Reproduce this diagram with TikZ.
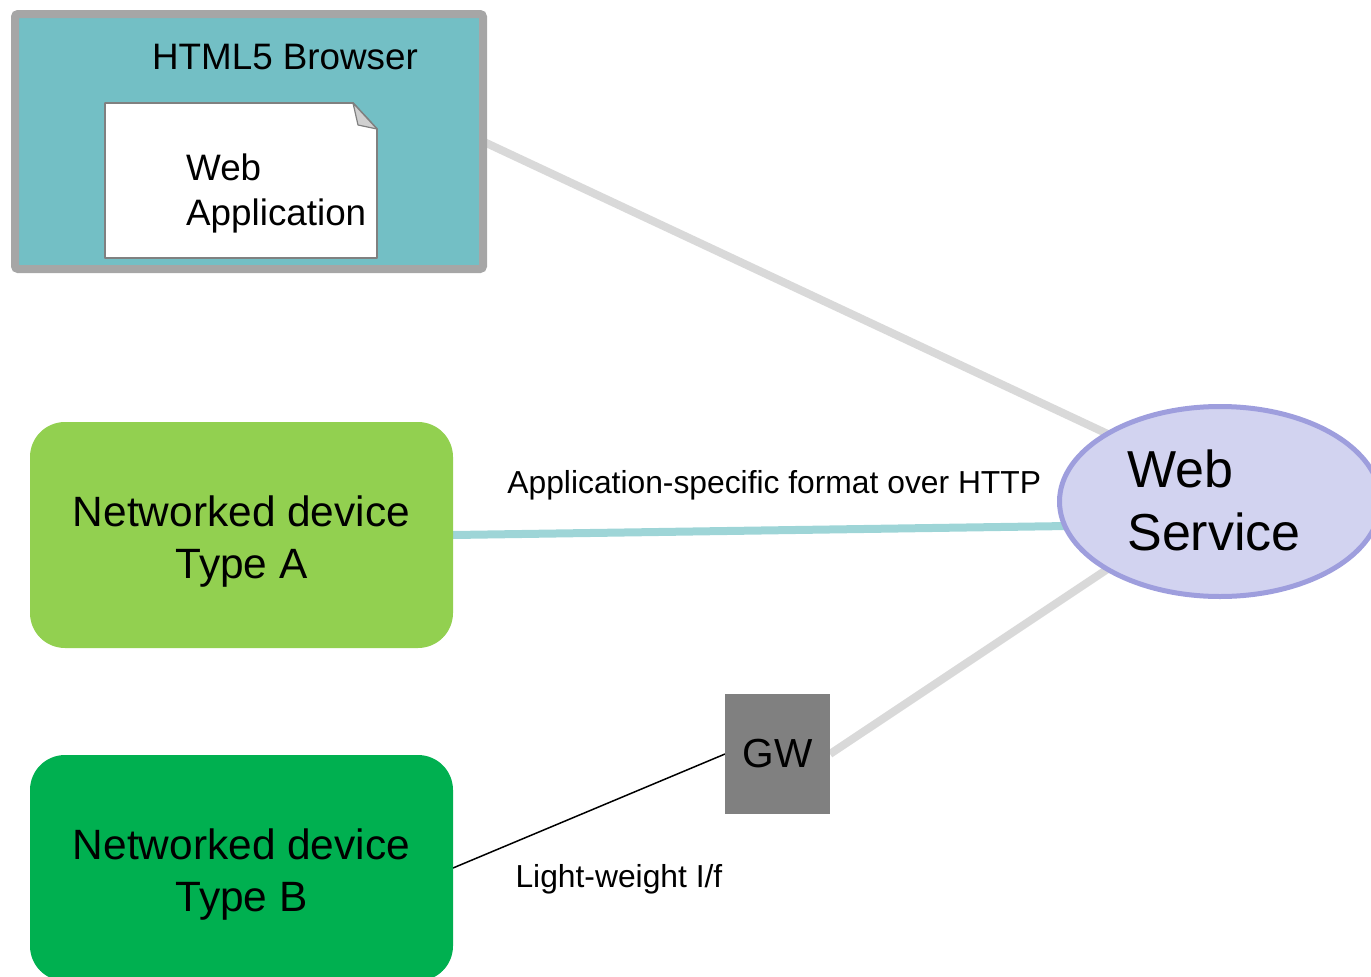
\documentclass[tikz,border=0pt]{standalone}
\usepackage{fontspec}
\setmainfont{Liberation Sans}
\usetikzlibrary{shapes.geometric,backgrounds}
\definecolor{browserfill}{HTML}{73BFC5}
\definecolor{browserline}{HTML}{A6A6A6}
\definecolor{docline}{HTML}{808080}
\definecolor{docfold}{HTML}{D0D0D0}
\definecolor{linkgray}{HTML}{D9D9D9}
\definecolor{linkteal}{HTML}{9ED5D7}
\definecolor{wsfill}{HTML}{D2D3F0}
\definecolor{wsline}{HTML}{9E9EDD}
\definecolor{devA}{HTML}{92D050}
\definecolor{devB}{HTML}{00B050}
\definecolor{gwfill}{HTML}{808080}
\newcommand\setfs[2]{\fontsize{#1}{#2}\selectfont}
% two centred lines, lowered a little inside a device box (box size kept)
\newcommand\devtext[2]{\raisebox{-7pt}[\height][\depth]{\begin{tabular}{@{}c@{}}#1\\#2\end{tabular}}}
\tikzset{
  device/.style={rounded corners=35pt, minimum width=423, minimum height=226,
    inner sep=0pt, outer sep=0pt, font=\setfs{42.4}{52}},
  widelink/.style={line width=8pt},
  lbl/.style={inner sep=0pt, text=black, font=\setfs{31.8}{38}},
}
\begin{document}
\begin{tikzpicture}[x=1pt,y=-1pt]
\useasboundingbox (0,0) rectangle (1371,977);
\clip (0,0) rectangle (1371,977);

% browser frame and the web application sheet inside it
\node[draw=browserline, fill=browserfill, line width=8pt, rounded corners=3pt,
  minimum width=468, minimum height=255, inner sep=0pt, outer sep=0pt]
  (browser) at (249,141.5) {};
\node[anchor=base, inner sep=0pt, font=\setfs{36.8}{45}] (browsertitle) at (285,69) {HTML5 Browser};
\draw[docline, fill=white, line width=1.8pt, line join=round]
  (105,103) -- (353,103) -- (377,129) -- (377,258) -- (105,258) -- cycle;
\draw[docline, fill=docfold, line width=1.2pt, line join=round]
  (353,103) -- (358,125) -- (377,129) -- cycle;
\node[anchor=base west, inner sep=0pt, font=\setfs{36.8}{45}] (webapp1) at (186,180) {Web};
\node[anchor=base west, inner sep=0pt, font=\setfs{36.8}{45}] (webapp2) at (186,225) {Application};

% web service
\node[ellipse, draw=wsline, fill=wsfill, line width=5pt, minimum width=321,
  minimum height=190, inner sep=0pt, outer sep=0pt,
  font=\setfs{52}{63}] (ws) at (1220,501.5)
  {\raisebox{-5pt}[\height][\depth]{\begin{tabular}{@{}l@{\hspace{12pt}}}Web\\Service\end{tabular}}};

% devices and gateway
\node[device, fill=devA] (devicea) at (241.5,535) {\devtext{Networked device}{Type A}};
\node[device, fill=devB] (deviceb) at (241.5,868) {\devtext{Networked device}{Type B}};
\node[fill=gwfill, minimum width=105, minimum height=120, inner sep=0pt,
  outer sep=0pt, font=\setfs{40.6}{48}] (gw) at (777.5,754) {GW};

% connections
\begin{pgfonlayer}{background}
\draw[widelink, linkgray] (browser.east) -- (ws.149);
\draw[widelink, linkteal] (devicea.east) --
  node[lbl, pos=0.525, anchor=base, yshift=37pt] (httplabel) {Application-specific format over HTTP}
  (ws.189);
\draw[widelink, linkgray] (gw.east) -- (ws.211);
\draw[line width=1.5pt, black] (deviceb.east) --
  node[lbl, pos=0.61, anchor=base, yshift=-89pt] (lwlabel) {Light-weight I/f}
  (gw.west);
\end{pgfonlayer}
\end{tikzpicture}
\end{document}
